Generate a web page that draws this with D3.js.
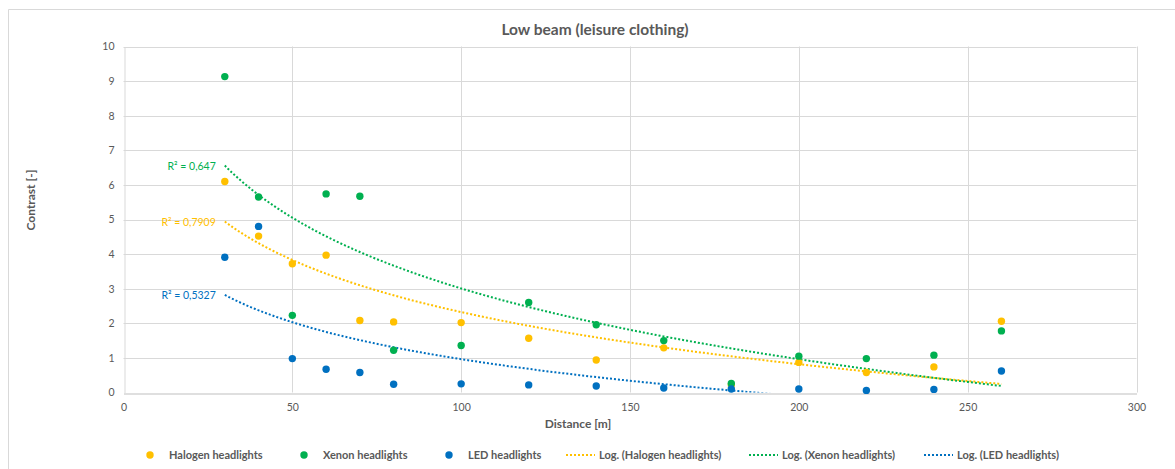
<!DOCTYPE html>
<html><head><meta charset="utf-8">
<script src="https://cdn.jsdelivr.net/npm/d3@7"></script>
<style>
body{margin:0;background:#fff;}
text{font-family:Lato,"Open Sans",sans-serif;}
</style></head>
<body><svg id="c" width="1175" height="469"></svg>
<script>
const distances = [30,40,50,60,70,80,100,120,140,160,180,200,220,240,260];
const halogen = [6.1,4.52,3.72,3.97,2.08,2.04,2.02,1.57,0.94,1.29,0.22,0.87,0.58,0.74,2.06];
const xenon   = [9.13,5.65,2.23,5.74,5.67,1.22,1.36,2.6,1.96,1.5,0.26,1.05,0.98,1.08,1.78];
const led     = [3.91,4.8,0.98,0.67,0.58,0.24,0.25,0.22,0.19,0.13,0.1,0.1,0.06,0.09,0.62];
const seriesNames = ["Halogen headlights","Xenon headlights","LED headlights"];
const r2Labels = ["R² = 0,7909","R² = 0,647","R² = 0,5327"];
const xTicks = [0,50,100,150,200,250,300];
const yTicks = [0,1,2,3,4,5,6,7,8,9,10];
const colors = ["#FFC000","#00B050","#0070C0"];

const svg = d3.select("#c");
const M = {l:123.5, r:1136.5, t:46.5, b:392.5};
const x = d3.scaleLinear().domain([0,300]).range([M.l,M.r]);
const y = d3.scaleLinear().domain([0,10]).range([M.b,M.t]);

// chart border
svg.append("path").attr("d",`M8.5,470 V9.5 H1175`).attr("fill","none").attr("stroke","#d9d9d9");

// gridlines
svg.append("g").selectAll("line").data(yTicks.filter(d=>d>0)).join("line")
  .attr("x1",M.l).attr("x2",M.r).attr("y1",d=>Math.round(y(d))+0.5).attr("y2",d=>Math.round(y(d))+0.5)
  .attr("stroke","#d9d9d9");
svg.append("g").selectAll("line").data(xTicks.filter(d=>d>0)).join("line")
  .attr("y1",M.t).attr("y2",M.b).attr("x1",d=>Math.round(x(d))+0.5).attr("x2",d=>Math.round(x(d))+0.5)
  .attr("stroke","#d9d9d9");
// axes
const xa = svg.append("g").attr("transform",`translate(0,${Math.round(y(0))+0.5})`)
  .call(d3.axisBottom(x).tickValues(xTicks).tickSize(0).tickPadding(10));
xa.select(".domain").attr("stroke","#bfbfbf");
const ya = svg.append("g").attr("transform",`translate(${Math.round(x(0))+0.5},0)`)
  .call(d3.axisLeft(y).tickValues(yTicks).tickSize(0).tickPadding(10));
ya.select(".domain").attr("stroke","#d9d9d9");
svg.selectAll(".tick text").attr("fill","#595959").style("font-size","10.5px").style("font-family","Lato,'Open Sans',sans-serif");

// title & axis titles
svg.append("text").attr("x",595).attr("y",35).attr("text-anchor","middle")
  .attr("fill","#595959").style("font-size","15.5px").style("font-weight","bold").text("Low beam (leisure clothing)");
svg.append("text").attr("x",578).attr("y",428).attr("text-anchor","middle")
  .attr("fill","#595959").style("font-size","12px").style("font-weight","bold").text("Distance [m]");
svg.append("text").attr("transform","translate(35,200) rotate(-90)").attr("text-anchor","middle")
  .attr("fill","#595959").style("font-size","12px").style("font-weight","bold").text("Contrast [-]");

// trendlines (log regression computed from data)
const allSeries = [halogen, xenon, led];
svg.append("clipPath").attr("id","clip").append("rect").attr("x",M.l).attr("y",M.t).attr("width",M.r-M.l).attr("height",M.b-M.t);
allSeries.forEach((vals,i)=>{
  const pts = distances.map((d,j)=>[d,vals[j]]).filter(p=>p[1]!=null);
  const lx = pts.map(p=>Math.log(p[0]));
  const mx = d3.mean(lx), my = d3.mean(pts,p=>p[1]);
  let sxy=0,sxx=0;
  pts.forEach((p,k)=>{sxy+=(lx[k]-mx)*(p[1]-my);sxx+=(lx[k]-mx)**2;});
  const a = sxy/sxx, b = my-a*mx;
  const x0 = d3.min(pts,p=>p[0]), x1 = d3.max(pts,p=>p[0]);
  const curve = d3.range(x0, x1+0.01, 1).map(d=>[d, a*Math.log(d)+b]);
  svg.append("path").datum(curve).attr("clip-path","url(#clip)")
    .attr("d",d3.line().x(d=>x(d[0])).y(d=>y(d[1])))
    .attr("fill","none").attr("stroke",colors[i]).attr("stroke-width",2).attr("stroke-dasharray","2,2");
  svg.append("text").attr("x",x(x0)-9).attr("y",y(a*Math.log(x0)+b)+4).attr("text-anchor","end")
    .attr("fill",colors[i]).style("font-size","10.5px").text(r2Labels[i]);
});

// points
allSeries.forEach((vals,i)=>{
  svg.append("g").selectAll("circle").data(distances.map((d,j)=>[d,vals[j]]).filter(p=>p[1]!=null)).join("circle")
    .attr("cx",d=>x(d[0])).attr("cy",d=>y(d[1])).attr("r",3.7).attr("fill",colors[i]);
});

// legend
const lg = svg.append("g").attr("fill","#595959").style("font-size","11px").style("font-weight","bold");
const dotX = [150,304,449];
seriesNames.forEach((s,i)=>{
  lg.append("circle").attr("cx",dotX[i]).attr("cy",455).attr("r",3.7).attr("fill",colors[i]);
  lg.append("text").attr("x",dotX[i]+19).attr("y",459).text(s);
});
const lineX = [566,749,924];
seriesNames.forEach((s,i)=>{
  lg.append("line").attr("x1",lineX[i]).attr("x2",lineX[i]+29).attr("y1",455).attr("y2",455)
    .attr("stroke",colors[i]).attr("stroke-width",2).attr("stroke-dasharray","2,2");
  lg.append("text").attr("x",lineX[i]+33).attr("y",459).text(`Log. (${s})`);
});
</script></body></html>
